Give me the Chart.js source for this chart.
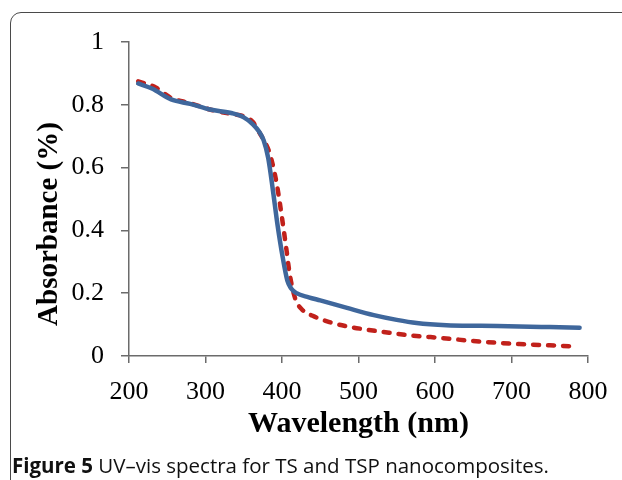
<!DOCTYPE html>
<html>
<head>
<meta charset="utf-8">
<title>UV-vis spectra</title>
<script src="https://cdn.jsdelivr.net/npm/chart.js@4"></script>
<style>
  html, body {
    margin: 0;
    padding: 0;
    background: #ffffff;
  }
  #page {
    position: relative;
    width: 622px;
    height: 480px;
    overflow: hidden;
  }
  #frame {
    position: absolute;
    left: 10px;
    top: 12px;
    width: 640px;
    height: 520px;
    border: 1.5px solid #4a4a4a;
    border-radius: 11px;
  }
  #chartBox {
    position: absolute;
    left: 0;
    top: 0;
    width: 622px;
    height: 480px;
  }
  #caption {
    position: absolute;
    left: 12px;
    top: 451px;
    font-family: "Open Sans", sans-serif;
    font-size: 20.5px;
    line-height: 28px;
    color: #111111;
    white-space: nowrap;
  }
  #caption b {
    font-weight: 700;
  }
</style>
</head>
<body>
<div id="page">
  <div id="frame"></div>
  <div id="chartBox"><canvas id="uvChart" width="622" height="480"></canvas></div>
  <div id="caption"><b>Figure 5</b> UV–vis spectra for TS and TSP nanocomposites.</div>
</div>
<script>
// Wavelength (nm) and absorbance values
const tsWavelength = [212, 230, 255, 280, 306, 335, 350, 362, 370, 376, 382, 388, 394, 401, 407, 412, 419, 435, 450, 485, 520, 550, 576, 615, 660, 710, 750, 789];
const tsAbsorbance = [0.868, 0.852, 0.817, 0.803, 0.785, 0.773, 0.760, 0.738, 0.715, 0.687, 0.630, 0.530, 0.420, 0.313, 0.240, 0.215, 0.200, 0.187, 0.177, 0.153, 0.130, 0.115, 0.105, 0.098, 0.096, 0.094, 0.092, 0.090];

const tspWavelength = [212, 235, 255, 280, 306, 335, 350, 362, 371, 378, 384, 393, 400, 406, 410, 417, 427, 440, 462, 488, 505, 540, 571, 610, 658, 710, 750, 786];
const tspAbsorbance = [0.875, 0.855, 0.822, 0.805, 0.785, 0.770, 0.763, 0.745, 0.709, 0.680, 0.645, 0.550, 0.440, 0.335, 0.262, 0.185, 0.146, 0.128, 0.108, 0.093, 0.086, 0.074, 0.065, 0.057, 0.046, 0.038, 0.034, 0.030];

// Axis tick values and titles
const xTicks = [200, 300, 400, 500, 600, 700, 800];
const yTicks = [0, 0.2, 0.4, 0.6, 0.8, 1];
const xTitle = "Wavelength (nm)";
const yTitle = "Absorbance (%)";

document.addEventListener("DOMContentLoaded", () => {
  const toPoints = (xs, ys) => xs.map((x, i) => ({ x: x, y: ys[i] }));

  const axisColor = "#6b6b6b";
  const serif = "'Liberation Serif', 'Times New Roman', serif";

  // Y title drawn by hand: in the figure it sits a bit below the plot's middle
  const yTitlePlugin = {
    id: "yTitle",
    afterDraw(chart) {
      const c = chart.ctx;
      c.save();
      c.translate(50, 224);
      c.rotate(-Math.PI / 2);
      c.font = "bold 29px " + serif;
      c.fillStyle = "#000";
      c.textAlign = "center";
      c.textBaseline = "middle";
      c.fillText(yTitle, 0, 0);
      c.restore();
    },
  };

  const ctx = document.getElementById("uvChart").getContext("2d");
  new Chart(ctx, {
    type: "line",
    data: {
      datasets: [
        {
          label: "TS",
          data: toPoints(tsWavelength, tsAbsorbance),
          borderColor: "#3f679c",
          borderWidth: 4.5,
          pointRadius: 0,
          cubicInterpolationMode: "monotone",
          borderCapStyle: "round",
          fill: false,
        },
        {
          label: "TSP",
          data: toPoints(tspWavelength, tspAbsorbance),
          borderColor: "#c1211b",
          borderWidth: 4.5,
          borderDash: [6, 9],
          borderCapStyle: "round",
          pointRadius: 0,
          cubicInterpolationMode: "monotone",
          fill: false,
        },
      ],
    },
    options: {
      responsive: false,
      animation: false,
      layout: {
        padding: { left: 0, top: 42, right: 34, bottom: 30 },
      },
      plugins: {
        legend: { display: false },
        tooltip: { enabled: false },
      },
      scales: {
        x: {
          type: "linear",
          min: 200,
          max: 800,
          afterBuildTicks: (scale) => {
            scale.ticks = xTicks.map((v) => ({ value: v }));
          },
          afterFit: (scale) => {
            scale.height = 94;
          },
          grid: {
            drawOnChartArea: false,
            drawTicks: true,
            tickLength: 7,
            color: axisColor,
            lineWidth: 1.5,
          },
          border: { color: axisColor, width: 1.5 },
          ticks: {
            color: "#000",
            padding: 14,
            maxRotation: 0,
            font: { family: serif, size: 26 },
          },
          title: {
            display: true,
            text: xTitle,
            color: "#000",
            padding: { top: 0, bottom: 8 },
            font: { family: serif, size: 30, weight: "bold" },
          },
        },
        y: {
          min: 0,
          max: 1,
          afterBuildTicks: (scale) => {
            scale.ticks = yTicks.map((v) => ({ value: v }));
          },
          afterFit: (scale) => {
            scale.width = 129;
          },
          grid: {
            drawOnChartArea: false,
            drawTicks: true,
            tickLength: 8,
            color: axisColor,
            lineWidth: 1.5,
          },
          border: { color: axisColor, width: 1.5 },
          ticks: {
            color: "#000",
            padding: 17,
            font: { family: serif, size: 26 },
            callback: (value) => String(Math.round(value * 10) / 10),
          },
        },
      },
    },
    plugins: [yTitlePlugin],
  });
});
</script>
</body>
</html>
